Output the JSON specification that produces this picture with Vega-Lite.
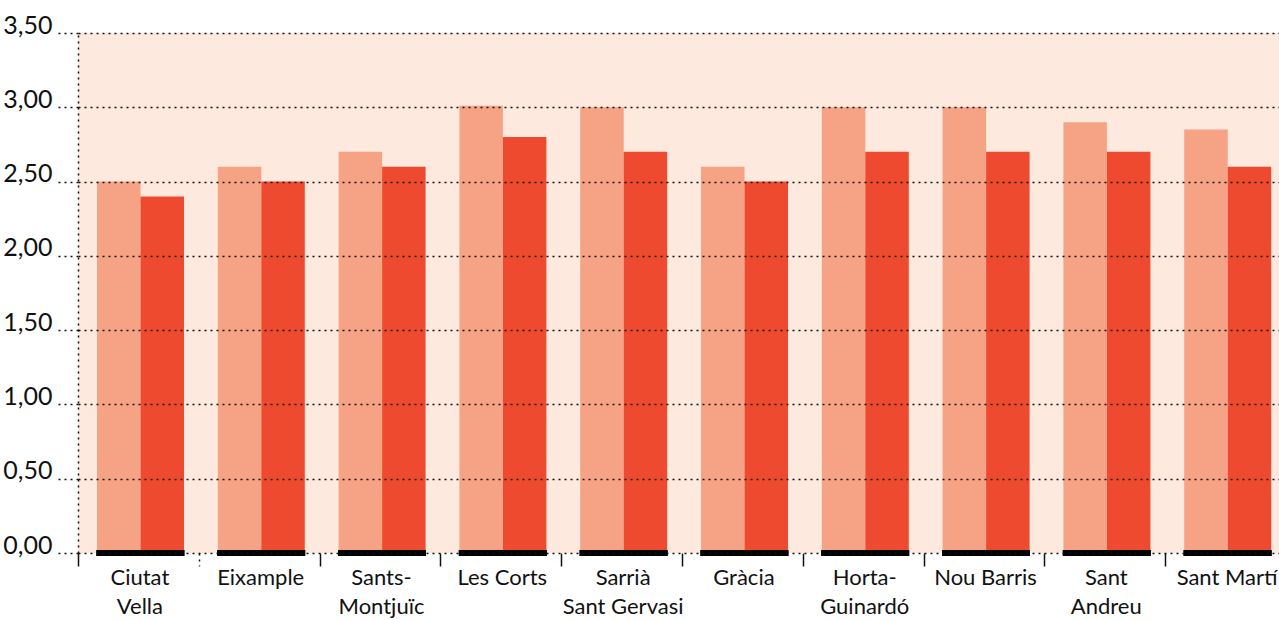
{
  "$schema": "https://vega.github.io/schema/vega-lite/v6.json",
  "width": 1201,
  "height": 520,
  "autosize": {"type": "none"},
  "padding": {"left": 78, "top": 33, "right": 0, "bottom": 67},
  "background": "white",
  "config": {
    "view": {"fill": "#fde9de", "stroke": null},
    "font": "Lato, sans-serif"
  },
  "data": {
    "values": [
      {"district": "Ciutat Vella", "serie": "a", "value": 2.5},
      {"district": "Ciutat Vella", "serie": "b", "value": 2.4},
      {"district": "Eixample", "serie": "a", "value": 2.6},
      {"district": "Eixample", "serie": "b", "value": 2.5},
      {"district": "Sants-Montjuïc", "serie": "a", "value": 2.7},
      {"district": "Sants-Montjuïc", "serie": "b", "value": 2.6},
      {"district": "Les Corts", "serie": "a", "value": 3.01},
      {"district": "Les Corts", "serie": "b", "value": 2.8},
      {"district": "Sarrià Sant Gervasi", "serie": "a", "value": 3.0},
      {"district": "Sarrià Sant Gervasi", "serie": "b", "value": 2.7},
      {"district": "Gràcia", "serie": "a", "value": 2.6},
      {"district": "Gràcia", "serie": "b", "value": 2.5},
      {"district": "Horta-Guinardó", "serie": "a", "value": 3.0},
      {"district": "Horta-Guinardó", "serie": "b", "value": 2.7},
      {"district": "Nou Barris", "serie": "a", "value": 3.0},
      {"district": "Nou Barris", "serie": "b", "value": 2.7},
      {"district": "Sant Andreu", "serie": "a", "value": 2.9},
      {"district": "Sant Andreu", "serie": "b", "value": 2.7},
      {"district": "Sant Martí", "serie": "a", "value": 2.85},
      {"district": "Sant Martí", "serie": "b", "value": 2.6}
    ]
  },
  "layer": [
    {
      "mark": {"type": "bar"},
      "encoding": {
        "x": {
          "field": "district",
          "type": "nominal",
          "sort": null,
          "scale": {"range": [0, 1208], "paddingInner": 0, "paddingOuter": 0},
          "axis": {
            "title": null,
            "tickBand": "extent",
            "tickSize": 13,
            "tickColor": "#111",
            "tickWidth": 1.5,
            "tickDash": {"condition": {"test": "datum.index == 0", "value": [2, 4]}, "value": [1, 0]},
            "domain": false,
            "grid": false,
            "labelFontSize": 22,
            "labelColor": "#111",
            "labelAngle": 0,
            "labelPadding": 1,
            "labelLineHeight": 29,
            "labelBaseline": "top",
            "labelOffset": 1,
            "labelOverlap": false,
            "labelExpr": "datum.value == 'Ciutat Vella' ? ['Ciutat','Vella'] : datum.value == 'Sants-Montjuïc' ? ['Sants-','Montjuïc'] : datum.value == 'Sarrià Sant Gervasi' ? ['Sarrià','Sant Gervasi'] : datum.value == 'Horta-Guinardó' ? ['Horta-','Guinardó'] : datum.value == 'Sant Andreu' ? ['Sant','Andreu'] : datum.value",
            "zindex": 1
          }
        },
        "xOffset": {
          "field": "serie",
          "type": "nominal",
          "scale": {"range": [19, 106], "paddingInner": 0, "paddingOuter": 0}
        },
        "y": {
          "field": "value",
          "type": "quantitative",
          "scale": {"domain": [0, 3.5]},
          "axis": {
            "title": null,
            "values": [0, 0.5, 1, 1.5, 2, 2.5, 3, 3.5],
            "labelExpr": "replace(format(datum.value, '.2f'), '.', ',')",
            "grid": true,
            "gridDash": [2, 4],
            "gridColor": "#111",
            "gridWidth": 1.5,
            "tickSize": 21,
            "tickDash": [2, 4],
            "tickColor": "#111",
            "tickWidth": 1.5,
            "domain": true,
            "domainDash": [2, 4],
            "domainColor": "#111",
            "domainWidth": 1.5,
            "labelFontSize": 25,
            "labelColor": "#111",
            "labelBaseline": "alphabetic",
            "labelPadding": 5,
            "zindex": 1
          }
        },
        "color": {
          "field": "serie",
          "type": "nominal",
          "scale": {"domain": ["a", "b"], "range": ["#f6a385", "#ee4a30"]},
          "legend": null
        }
      }
    },
    {
      "mark": {"type": "tick", "thickness": 6, "size": 88, "color": "black", "xOffset": 2, "orient": "horizontal", "opacity": 1},
      "encoding": {
        "x": {"field": "district", "type": "nominal", "sort": null},
        "y": {"datum": 0}
      }
    }
  ]
}
